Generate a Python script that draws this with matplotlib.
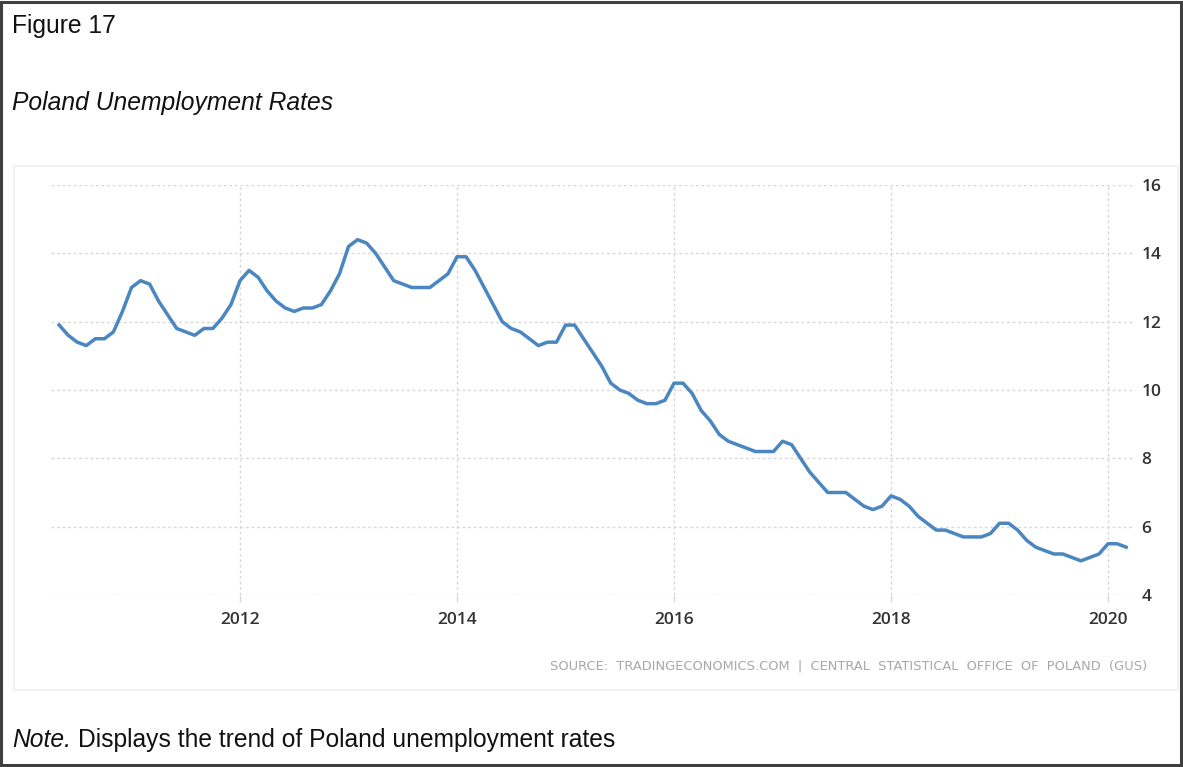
import numpy as np
import matplotlib.pyplot as plt
from matplotlib.patches import Rectangle

# monthly unemployment rate, May 2010 .. Mar 2020
start_year, start_month = 2010, 5
rates = [
    11.9, 11.6, 11.4, 11.3, 11.5, 11.5, 11.7, 12.3,                    # 2010 May-Dec
    13.0, 13.2, 13.1, 12.6, 12.2, 11.8, 11.7, 11.6, 11.8, 11.8, 12.1, 12.5,  # 2011
    13.2, 13.5, 13.3, 12.9, 12.6, 12.4, 12.3, 12.4, 12.4, 12.5, 12.9, 13.4,  # 2012
    14.2, 14.4, 14.3, 14.0, 13.6, 13.2, 13.1, 13.0, 13.0, 13.0, 13.2, 13.4,  # 2013
    13.9, 13.9, 13.5, 13.0, 12.5, 12.0, 11.8, 11.7, 11.5, 11.3, 11.4, 11.4,  # 2014
    11.9, 11.9, 11.5, 11.1, 10.7, 10.2, 10.0, 9.9, 9.7, 9.6, 9.6, 9.7,       # 2015
    10.2, 10.2, 9.9, 9.4, 9.1, 8.7, 8.5, 8.4, 8.3, 8.2, 8.2, 8.2,            # 2016
    8.5, 8.4, 8.0, 7.6, 7.3, 7.0, 7.0, 7.0, 6.8, 6.6, 6.5, 6.6,              # 2017
    6.9, 6.8, 6.6, 6.3, 6.1, 5.9, 5.9, 5.8, 5.7, 5.7, 5.7, 5.8,              # 2018
    6.1, 6.1, 5.9, 5.6, 5.4, 5.3, 5.2, 5.2, 5.1, 5.0, 5.1, 5.2,              # 2019
    5.5, 5.5, 5.4,                                                          # 2020 Jan-Mar
]
year_ticks = [2012, 2014, 2016, 2018, 2020]
y_ticks = [4, 6, 8, 10, 12, 14, 16]
source = "SOURCE:  TRADINGECONOMICS.COM  |  CENTRAL  STATISTICAL  OFFICE  OF  POLAND  (GUS)"

W, H = 1183, 767
fig = plt.figure(figsize=(W / 100, H / 100), dpi=100)
plt.rcParams['font.family'] = ['Liberation Sans', 'DejaVu Sans']


def px(x, y):
    return x / W, 1 - y / H


# outer frame and chart panel
fig.patches.append(Rectangle((0.001, 0.002), 0.997, 0.995, transform=fig.transFigure,
                             fill=False, edgecolor='#404040', linewidth=2.2))
x0, y0 = px(14, 690)
x1, y1 = px(1178, 166)
fig.patches.append(Rectangle((x0, y0), x1 - x0, y1 - y0, transform=fig.transFigure,
                             fill=False, edgecolor='#f0f0f0', linewidth=1.2))

# text
fs = 17.7
fig.text(*px(12, 33), "Figure 17", fontsize=fs, color='#111', va='baseline')
fig.text(*px(12, 110), "Poland Unemployment Rates", fontsize=fs, style='italic',
         color='#111', va='baseline')
note = fig.text(*px(12, 747), "Note.", fontsize=fs, style='italic', color='#111', va='baseline')
fig.canvas.draw()
bb = note.get_window_extent()
fig.text(bb.x1 / W + 7 / W, 1 - 747 / H, "Displays the trend of Poland unemployment rates",
         fontsize=fs, color='#111', va='baseline')
fig.text(*px(1147, 669), source, fontsize=9.4, color='#a8a8a8', ha='right', va='baseline',
         family='DejaVu Sans')

# chart
ax = fig.add_axes([51 / W, 1 - 595 / H, (1133 - 51) / W, 410 / H])
t = start_year + (start_month - 1) / 12 + np.arange(len(rates)) / 12
ax.plot(t, rates, color='#4a86c0', linewidth=2.5, solid_joinstyle='round')
ax.set_xlim(2010.258, 2020.23)
ax.set_ylim(4, 16)
ax.set_xticks(year_ticks)
ax.set_xticklabels([str(y) for y in year_ticks])
ax.set_yticks(y_ticks)
for s in ax.spines.values():
    s.set_visible(False)
ax.yaxis.tick_right()
ax.tick_params(axis='y', length=0, pad=6, labelsize=12.5, labelcolor='#333')
ax.tick_params(axis='x', length=5, width=1, color='#d8d8d8', pad=7, labelsize=12.5,
               labelcolor='#333')
for lab in ax.get_xticklabels() + ax.get_yticklabels():
    lab.set_family('Open Sans')
    lab.set_fontweight('semibold')
ax.grid(True, axis='both', color='#d8d8d8', linestyle=(0, (2, 2)), linewidth=1)
ax.set_axisbelow(True)

plt.savefig("out.png", dpi=100)
